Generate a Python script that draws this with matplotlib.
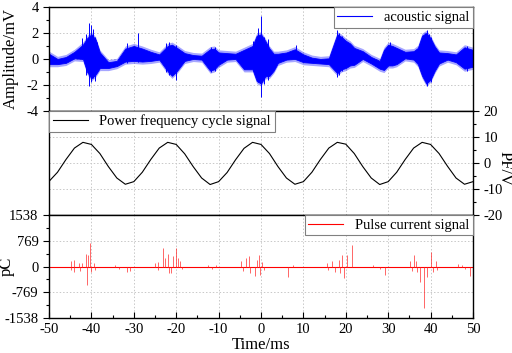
import numpy as np
import matplotlib
matplotlib.use("Agg")
import matplotlib.pyplot as plt
from matplotlib.ticker import MultipleLocator, FixedLocator

plt.rcParams['font.family'] = ['Liberation Serif', 'DejaVu Serif']
plt.rcParams['axes.unicode_minus'] = False

# acoustic signal: band envelope (mV)
ac_t = [-50, -48, -46, -44, -42, -41, -40, -39, -38, -36, -34, -32, -30, -28, -26,
        -24, -22, -21, -20, -18, -16, -14, -12, -11, -10, -8, -6, -4, -2, -1, 0,
        1, 2, 3, 4, 6, 8, 10, 12, 14, 16, 18, 19, 20, 21, 22, 24, 26, 28, 29, 30,
        31, 32, 34, 36, 37, 38, 39, 40, 41, 42, 44, 46, 48, 50]
ac_hi = [0.4, 0.0, 0.15, 0.55, 1.1, 1.6, 1.9, 1.5, 0.5, -0.25, -0.15, 0.8, 1.0, 0.8, 0.55,
         0.35, 1.0, 1.1, 0.9, 0.45, 0.3, 0.25, 0.75, 0.8, 0.5, 0.45, 0.4, 0.7, 1.0, 1.8, 1.9,
         1.4, 0.8, 0.4, 0.4, 0.5, 0.75, 0.35, 0.1, 0.0, 0.05, 1.9, 1.7, 1.4, 1.2, 0.85, 0.6,
         0.15, -0.15, 0.7, 1.1, 1.0, 0.85, 0.55, 0.6, 0.85, 1.8, 2.0, 1.6, 0.95, 0.5, 0.45,
         0.35, 0.9, 0.7]
ac_lo = [-0.4, -0.4, -0.3, 0.05, 0.0, -1.0, -1.5, -1.2, -0.7, -0.7, -0.55, -0.2, -0.15, -0.2, -0.15,
         -0.05, -0.95, -1.3, -1.0, -0.15, 0.0, -0.05, -0.9, -0.8, -0.45, -0.05, 0.0, -0.8, -0.8, -1.7, -1.9,
         -1.35, -1.3, -0.9, -0.3, -0.05, 0.0, -0.25, -0.3, -0.35, -0.4, -1.1, -0.8, -0.7, -0.5, -0.45, 0.0,
         -0.35, -0.75, -0.85, -0.5, -0.5, -0.4, 0.05, -0.05, -0.4, -1.3, -1.9, -1.6, -0.9, -0.35, -0.05,
         -0.25, -0.75, -0.6]

# acoustic spikes: time, top, bottom
sp_t = [-42.3, -41.3, -40.6, -40.2, -39.7, -39.2, -38.7, -31.5, -29.0, -22.5, -21.6, -20.0,
        -11.8, -10.8, -2.0, -0.6, 0.1, 0.8, 1.6, 8.2, 17.9, 18.4, 19.0, 30.5, 38.6, 39.1,
        39.6, 40.2, 48.5]
sp_hi = [1.6, 1.9, 2.8, 2.6, 2.3, 1.7, 1.3, 1.2, 2.0, 1.2, 1.3, 1.1,
         0.9, 0.9, 1.4, 2.4, 3.3, 1.7, 1.5, 1.1, 2.2, 2.0, 1.8, 1.3, 2.0, 2.2,
         1.9, 1.7, 1.0]
sp_lo = [0.0, -1.2, -2.1, -1.8, -1.5, -1.7, -1.0, -0.3, -0.2, -1.0, -1.2, -1.6,
         -1.0, -0.9, -0.9, -1.8, -2.9, -1.9, -1.6, 0.0, -1.4, -1.2, -0.9, -0.5, -1.6, -2.1,
         -1.6, -1.8, -0.9]

# power frequency cycle signal (V), sampled every 2 ms
pf_t = np.arange(-50, 51, 2)
pf_v = [-7.1, -3.6, 1.3, 5.7, 7.9, 7.1, 3.6, -1.4, -5.8, -8.2,
        -7.2, -3.6, 1.3, 5.7, 7.9, 7.1, 3.5, -1.4, -5.8, -8.3,
        -7.2, -3.7, 1.2, 5.6, 7.9, 7.1, 3.6, -1.4, -5.8, -8.2,
        -7.2, -3.6, 1.3, 5.7, 7.9, 7.2, 3.6, -1.4, -5.8, -8.3,
        -7.2, -3.6, 1.3, 5.7, 7.9, 7.1, 3.6, -1.3, -5.8, -8.2, -7.2]

# pulse current spikes (pC)
pd_t = [-44.9, -44.9, -44.0, -44.0, -43.0, -42.6, -42.3, -41.3, -41.0, -40.9, -40.3, -40.0,
        -39.5, -39.2, -34.5, -33.5, -31.5, -30.8, -25.0, -24.4, -24.2, -23.2, -22.7, -22.0,
        -21.8, -21.2, -20.7, -20.1, -19.6, -19.0, -18.7, -12.5, -11.5, -10.5, -4.8, -4.2,
        -3.6, -2.8, -2.5, -1.5, -1.0, -0.5, -0.3, 0.3, 0.6, 6.4, 7.5, 15.5, 15.8, 16.8,
        17.5, 18.4, 18.6, 19.1, 19.5, 20.3, 21.5, 26.5, 28.0, 29.2, 35.1, 35.5, 36.1, 36.6,
        36.8, 37.5, 38.5, 39.1, 40.1, 40.5, 41.2, 41.6, 46.5, 47.5, 48.2, 49.3]
pd_v = [150, -100, 200, -150, 100, -120, 110, 380, -555, 350, 693, -150,
        100, -90, 50, -60, -150, -120, 100, 120, -100, 545, 250, 370,
        -200, -200, 300, 565, 250, 150, -80, 60, -70, 60, 150, -120,
        250, 300, -200, -280, 200, 330, -250, 120, -100, -300, 50, 100, -100, 150,
        -150, 200, -200, 350, -350, 330, 645, 60, -60, -250, 150, -120, 330, 150,
        -150, -450, -1250, -300, 445, -150, 150, -100, 80, 60, -80, -280]

fig = plt.figure(figsize=(5.12, 3.53), dpi=100)
L, W = 0.0957, 0.8281
ax1 = fig.add_axes([L, 0.686, W, 0.294])
ax2 = fig.add_axes([L, 0.391, W, 0.295])
ax3 = fig.add_axes([L, 0.099, W, 0.292])

grid_kw = dict(color='#c8c8c8', linestyle=(0, (1.5, 2)), linewidth=0.7)
for ax in (ax1, ax2, ax3):
    ax.set_xlim(-50, 50)
    ax.xaxis.set_major_locator(MultipleLocator(10))
    ax.xaxis.set_minor_locator(MultipleLocator(5))
    ax.grid(True, which='major', **grid_kw)
    ax.set_axisbelow(True)
    for s in ax.spines.values():
        s.set_linewidth(1.0)
    ax.tick_params(axis='x', which='both', direction='in', labelsize=10.5)
    ax.tick_params(axis='y', which='both', direction='out', labelsize=10.5)
    ax.tick_params(which='major', length=4, width=0.8)
    ax.tick_params(which='minor', length=2.5, width=0.8)

# top panel: soft outer band, solid core, then the spikes
ac_hi2 = [v + 0.2 for v in ac_hi]
ac_lo2 = [v - 0.2 for v in ac_lo]
ax1.fill_between(ac_t, ac_lo2, ac_hi2, color='blue', alpha=0.35, linewidth=0)
ax1.fill_between(ac_t, ac_lo, ac_hi, color='blue', linewidth=0.6)
ax1.vlines(sp_t, sp_lo, sp_hi, color='blue', linewidth=0.7)
ax1.plot([], [], color='blue', linewidth=0.8, label='acoustic signal')
ax1.set_ylim(-4, 4)
ax1.yaxis.set_major_locator(MultipleLocator(2))
ax1.yaxis.set_minor_locator(MultipleLocator(1))
ax1.tick_params(axis='x', which='both', bottom=False, labelbottom=False)
ax1.set_ylabel('Amplitude/mV', fontsize=12)
ax1.yaxis.set_label_coords(-0.072, 0.5)

# middle panel
ax2.plot(pf_t, pf_v, color='black', linewidth=0.8, label='Power frequency cycle signal')
ax2.set_ylim(-20, 20)
ax2.yaxis.tick_right()
ax2.yaxis.set_label_position('right')
ax2.yaxis.set_major_locator(MultipleLocator(10))
ax2.yaxis.set_minor_locator(MultipleLocator(5))
ax2.tick_params(axis='x', which='both', bottom=False, labelbottom=False)
ax2.set_ylabel('PF/V', fontsize=12, rotation=270, va='center')
ax2.yaxis.set_label_coords(1.075, 0.45)

# bottom panel
ax3.axhline(0, color='red', linewidth=0.8, label='Pulse current signal')
ax3.vlines(pd_t, 0, pd_v, color='#ff2a2a', linewidth=0.5)
ax3.set_ylim(-1538, 1538)
ax3.yaxis.set_major_locator(FixedLocator([-1538, -769, 0, 769, 1538]))
ax3.yaxis.set_minor_locator(FixedLocator([-1153.5, -384.5, 384.5, 1153.5]))
ax3.set_ylabel('pC', fontsize=12)
ax3.yaxis.set_label_coords(-0.08, 0.5)
ax3.set_xlabel('Time/ms', fontsize=12, labelpad=1)

leg_kw = dict(fontsize=10.5, fancybox=False, framealpha=1, edgecolor='#808080',
              borderaxespad=0, handlelength=2.4, borderpad=0.25)
for ax, loc in ((ax1, 'upper right'), (ax2, 'upper left'), (ax3, 'upper right')):
    lg = ax.legend(loc=loc, **leg_kw)
    lg.get_frame().set_linewidth(0.8)

fig.savefig('out.png', dpi=100)
